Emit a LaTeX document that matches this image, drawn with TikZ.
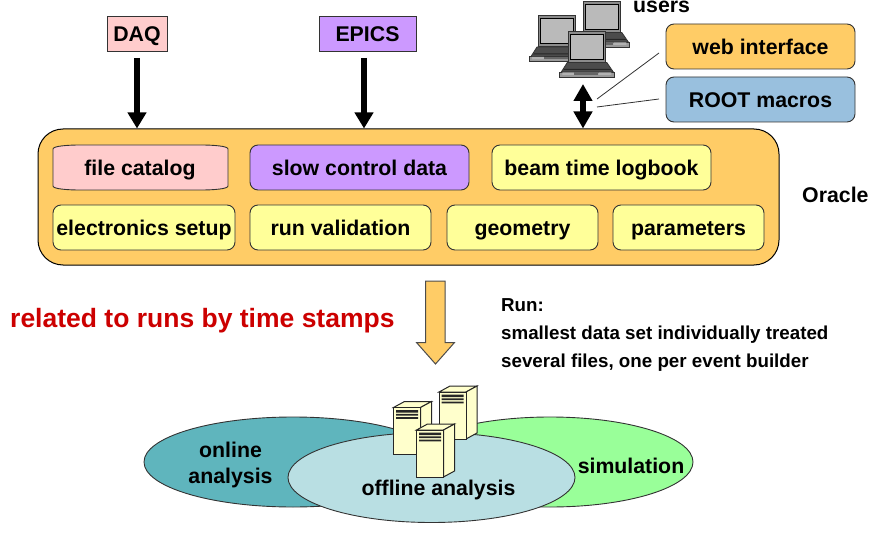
\documentclass[tikz,border=0pt]{standalone}
\usepackage{fontspec}
\setmainfont{Liberation Sans}[BoldFont={Liberation Sans Bold}]
\usetikzlibrary{arrows.meta,shapes.geometric}
\definecolor{orangeb}{HTML}{FFCC66}
\definecolor{pinkb}{HTML}{FFCCCC}
\definecolor{purpleb}{HTML}{CC99FF}
\definecolor{yellowb}{HTML}{FFFF99}
\definecolor{blueb}{HTML}{99C0DE}
\definecolor{tealb}{HTML}{5FB5BD}
\definecolor{paleb}{HTML}{B9DFE3}
\definecolor{greenb}{HTML}{99FF99}
\definecolor{creamb}{HTML}{FFFFCC}
\definecolor{redt}{HTML}{CC0000}
\definecolor{edgeb}{HTML}{333333}
\tikzset{
  lab/.style={font=\fontsize{21.3}{26}\selectfont\bfseries},
  fixedline/.style={text height=21.5pt,text depth=4.5pt},
  box/.style={lab,fixedline,draw=edgeb,line width=0.9pt,rounded corners=8pt,inner sep=0pt,minimum height=45pt},
  srcbox/.style={lab,fixedline,draw=edgeb,line width=0.9pt,inner sep=0pt,minimum height=35pt},
  bigarrow/.style={line width=6pt,-{Triangle[width=18pt,length=16pt]},shorten <=7pt},
  dblarrow/.style={line width=6pt,{Triangle[width=18pt,length=17pt]}-{Triangle[width=18pt,length=17pt]}},
  thinlink/.style={draw=edgeb,line width=0.8pt},
  blob/.style={ellipse,draw=edgeb,line width=0.9pt,inner sep=0pt,minimum width=#1,minimum height=90pt},
  note/.style={font=\fontsize{18.75}{28}\selectfont\bfseries,align=left,inner sep=0pt},
}
\newcommand{\serverat}[2]{%
  \begin{scope}[shift={(#1,#2)},line width=1pt,draw=black!85]
    \filldraw[fill=creamb] (0,0) -- (11,-6) -- (38,-6) -- (27,0) -- cycle;
    \filldraw[fill=creamb] (27,0) -- (38,-6) -- (38,41) -- (27,47) -- cycle;
    \filldraw[fill=creamb] (0,0) rectangle (27,47);
    \fill[black!85] (2.5,2.5) rectangle (24.5,5) (2.5,6.3) rectangle (24.5,8) (2.5,9.6) rectangle (24.5,11.3);
  \end{scope}}
\newcommand{\laptopat}[2]{%
  \begin{scope}[shift={(#1,#2)},line width=0.8pt]
    \filldraw[draw=black!80,fill=black!45] (0,0) rectangle (37.5,31);
    \filldraw[draw=black,fill=black!27] (2.5,3) rectangle (35,28);
    \filldraw[draw=black!80,fill=black!70] (-1,31.5) -- (38.5,31.5) -- (45,41) -- (-7,41) -- cycle;
    \filldraw[draw=black!80,fill=black!40] (-8.5,41) -- (46,41) -- (46,46) -- (-8.5,46) -- cycle;
    \fill[black!85] (-5,39) -- (43,39) -- (42,38) -- (-4,38) -- cycle;
    \fill[white!70!black] (-6,41.5) rectangle (6,44) (30,41.5) rectangle (43,44);
    \fill[black!60] (6,41.5) rectangle (30,44);
  \end{scope}}
\begin{document}
\begin{tikzpicture}[x=1pt,y=-1pt]
\useasboundingbox (0,0) rectangle (876,559);
% Oracle container
\node[draw=black,line width=1pt,fill=orangeb,rounded corners=25pt,minimum width=741pt,minimum height=136pt,inner sep=0pt] (oracle) at (408.5,197) {};
\node[lab,inner sep=0pt,anchor=west] (oraclelab) at (802,195) {Oracle};
% sources
\node[srcbox,fill=pinkb,minimum width=60pt] (daq) at (137,33.5) {DAQ};
\node[srcbox,fill=purpleb,minimum width=97pt] (epics) at (367.5,33.5) {EPICS};
\coordinate (daqout) at (137,51);
\draw[bigarrow] (daqout) -- (daqout |- oracle.north);
\coordinate (epicsout) at (364,51);
\draw[bigarrow] (epicsout) -- (epicsout |- oracle.north);
% file catalog
\filldraw[fill=pinkb,draw=edgeb,line width=0.9pt] (53,186) -- (53,149) .. controls (53,146) and (68,145) .. (80,145) -- (201,145) .. controls (213,145) and (228,146) .. (228,149) -- (228,186) .. controls (228,189) and (213,190) .. (201,190) -- (80,190) .. controls (68,190) and (53,189) .. (53,186) -- cycle;
\node[lab,fixedline,inner sep=0pt] (filecat) at (140,167.5) {file catalog};
\node[box,fill=purpleb,minimum width=219pt] (slow) at (359.5,167.5) {slow control data};
\node[box,fill=yellowb,minimum width=219pt] (logbook) at (601.5,167.5) {beam time logbook};
\node[box,fill=yellowb,minimum width=182pt] (elec) at (144,227.5) {electronics setup};
\node[box,fill=yellowb,minimum width=181pt] (runval) at (340.5,227.5) {run validation};
\node[box,fill=yellowb,minimum width=151pt] (geom) at (522.5,227.5) {geometry};
\node[box,fill=yellowb,minimum width=151pt] (param) at (688.5,227.5) {parameters};
% users
\laptopat{583.3}{1}
\laptopat{538}{15.5}
\laptopat{568.3}{31}
\node[lab,inner sep=0pt,anchor=west] (users) at (633,7) {users};
\node[box,fill=orangeb,minimum width=189pt] (web) at (760.5,46.5) {web interface};
\node[box,fill=blueb,minimum width=189pt] (root) at (760.5,99.5) {ROOT macros};
\coordinate (usersio) at (583,84);
\draw[dblarrow] (usersio) -- (usersio |- oracle.north);
\coordinate (lnka) at (597,99);
\coordinate (lnkb) at (597,107);
\coordinate (weba) at (659,53);
\coordinate (roota) at (659,99);
\draw[thinlink] (lnka) -- (weba);
\draw[thinlink] (lnkb) -- (roota);
% middle
\node[font=\fontsize{26.5}{30}\selectfont\bfseries,text=redt,inner sep=0pt,anchor=west] (related) at (10,320.5) {related to runs by time stamps};
\filldraw[draw=black!70,line width=1pt,fill=orangeb] (425.5,281) -- (445,281) -- (445,342.5) -- (454.5,342.5) -- (435.5,364) -- (416.5,342.5) -- (425.5,342.5) -- cycle;
\node[note,anchor=north west] (runnote) at (501,298) {Run:\\smallest data set individually treated\\several files, one per event builder};
% ellipses
\node[blob=286pt,fill=greenb] (sim) at (550,462) {};
\node[blob=298pt,fill=tealb] (online) at (293,462) {};
\node[blob=287pt,fill=paleb] (offline) at (431.5,477.5) {};
\node[inner sep=0pt,align=center,font=\fontsize{21.3}{26}\selectfont\bfseries] (onlinelab) at (230.5,465) {online\\analysis};
\node[lab,inner sep=0pt] (simlab) at (631,466) {simulation};
\node[lab,inner sep=0pt] (offlinelab) at (438.5,489.5) {offline analysis};
% servers
\serverat{439}{392}
\serverat{393.5}{407.5}
\serverat{416.5}{430}
\end{tikzpicture}
\end{document}
